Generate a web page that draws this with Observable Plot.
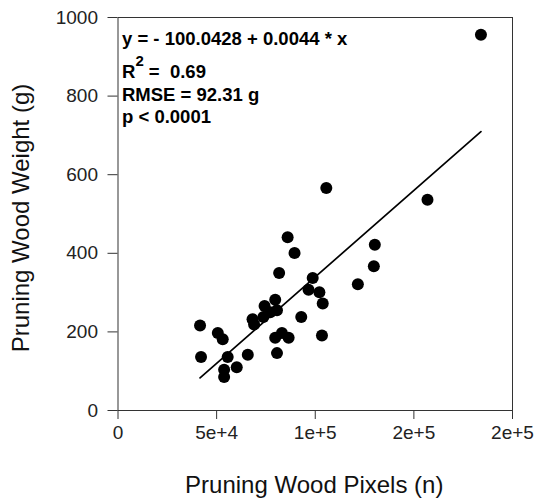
<!DOCTYPE html>
<html><head><meta charset="utf-8">
<script src="https://cdn.jsdelivr.net/npm/d3@7"></script>
<script src="https://cdn.jsdelivr.net/npm/@observablehq/plot@0.6"></script>
<style>body{margin:0;background:#fff;} svg text{white-space:pre;}</style>
</head><body><div id="chart"></div>
<script>
const pixels = [41600, 42100, 50600, 53100, 55600, 53800, 53800, 60200, 65800, 68200, 69000, 73700, 74300, 77200, 79700, 80600, 79700, 83100, 86500, 80600, 81700, 86000, 89500, 92900, 96600, 98700, 102100, 103800, 103400, 105600, 121600, 129700, 130200, 156900, 184000];
const weight = [216, 136, 197, 181, 136, 104, 85, 110, 142, 232, 219, 238, 266, 250, 282, 255, 185, 197, 185, 146, 350, 441, 401, 238, 307, 337, 301, 272, 191, 566, 321, 367, 422, 536, 956];
const xTicks = [0, 50000, 100000, 150000, 200000];
const xTickLabels = ["0", "5e+4", "1e+5", "2e+5", "2e+5"];
const yTicks = [0, 200, 400, 600, 800, 1000];
const yTickLabels = ["0", "200", "400", "600", "800", "1000"];
const intercept = -100.0428;
const slope = 0.0044;
const annotation = ["y = - 100.0428 + 0.0044 * x", "R2 =  0.69", "RMSE = 92.31 g", "p < 0.0001"];
const xTitle = "Pruning Wood Pixels (n)";
const yTitle = "Pruning Wood Weight (g)";

const data = pixels.map((x, i) => ({x, y: weight[i]}));
const [xmin, xmax] = d3.extent(pixels);
const fit = [xmin, xmax].map(x => ({x, y: intercept + slope * x}));

const font = "'Liberation Sans', Arial, sans-serif";
const annBaselines = [27, 60.5, 83, 105];

function superscriptR(index, scales, values, dims, context, next) {
  const g = next(index, scales, values, dims, context);
  d3.select(g).selectAll("text").each(function() {
    const t = d3.select(this);
    const s = t.text();
    if (!s.startsWith("R2")) return;
    t.text(null);
    t.append("tspan").text("R");
    t.append("tspan").attr("dy", -12).attr("font-size", 15).text("2");
    t.append("tspan").attr("dy", 12).text(s.slice(2));
  });
  return g;
}

const annMarks = annotation.map((line, i) => Plot.text([line], {
  text: d => d,
  frameAnchor: "top-left",
  textAnchor: "start",
  lineAnchor: "bottom",
  dx: 4,
  dy: annBaselines[i],
  fontSize: 18.5,
  fontWeight: "bold",
  fill: "#000",
  render: i === 1 ? superscriptR : undefined
}));

const chart = Plot.plot({
  width: 535,
  height: 499,
  marginLeft: 117.5,
  marginRight: 23,
  marginTop: 17,
  marginBottom: 89,
  style: {fontFamily: font, fontSize: "19px", color: "#000", background: "#fff"},
  x: {domain: [0, 200000]},
  y: {domain: [0, 1000]},
  marks: [
    Plot.axisX({ticks: xTicks, tickFormat: (d, i) => xTickLabels[i], tickSize: 9, tickPadding: 6, fontSize: 19, label: null, stroke: "#333", fill: "#222"}),
    Plot.axisY({ticks: yTicks, tickFormat: (d, i) => yTickLabels[i], tickSize: 10, tickPadding: 10, fontSize: 19, label: null, stroke: "#333", fill: "#222"}),
    Plot.frame({stroke: "#333", strokeWidth: 1}),
    Plot.line(fit, {x: "x", y: "y", stroke: "#000", strokeWidth: 1.7}),
    Plot.dot(data, {x: "x", y: "y", r: 6, fill: "#000", stroke: "none"}),
    ...annMarks,
    Plot.text([xTitle], {text: d => d, frameAnchor: "bottom", lineAnchor: "bottom", textAnchor: "middle", dx: -1, dy: 82, fontSize: 24, fill: "#111"}),
    Plot.text([yTitle], {text: d => d, frameAnchor: "left", lineAnchor: "bottom", textAnchor: "middle", rotate: -90, dx: -89, dy: 4, fontSize: 24, fill: "#111"})
  ]
});
document.getElementById("chart").appendChild(chart);
</script>
</body></html>
